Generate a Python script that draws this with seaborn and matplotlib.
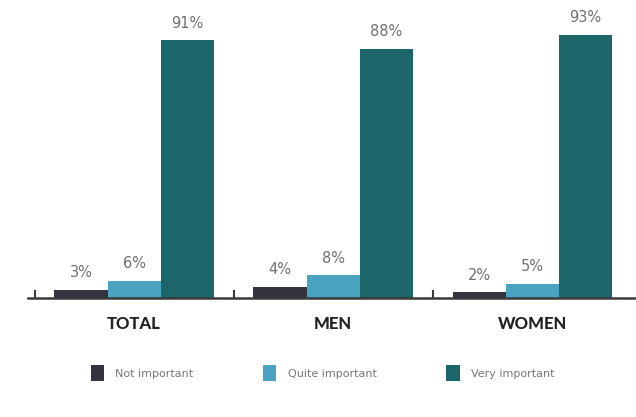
import matplotlib
matplotlib.use("Agg")
import matplotlib.pyplot as plt
import seaborn as sns
import pandas as pd

# Survey answers by respondent group (percent)
groups = ["TOTAL", "MEN", "WOMEN"]
levels = ["Not important", "Quite important", "Very important"]
not_important = [3, 4, 2]
quite_important = [6, 8, 5]
very_important = [91, 88, 93]

colors = ["#34343f", "#4aa3c1", "#1c6568"]

rows = []
for g, a, b, c in zip(groups, not_important, quite_important, very_important):
    rows.append({"group": g, "level": levels[0], "value": a})
    rows.append({"group": g, "level": levels[1], "value": b})
    rows.append({"group": g, "level": levels[2], "value": c})
df = pd.DataFrame(rows)

sns.set_theme(style="white")
plt.rcParams["font.family"] = ["DejaVu Sans"]

fig = plt.figure(figsize=(6.36, 4.17), dpi=100)
ax = fig.add_axes([28 / 636, 119 / 417, 608 / 636, 298 / 417])

sns.barplot(data=df, x="group", y="value", hue="level", order=groups,
            hue_order=levels, palette=colors, width=0.8, saturation=1,
            linewidth=0, ax=ax, legend=True)

for cont in ax.containers:
    ax.bar_label(cont, fmt="%d%%", padding=7, fontsize=10.5, color="#707070")

ax.set_ylim(0, 105.3)
ax.set_xlim(-0.533, 2.522)
ax.set_xlabel("")
ax.set_ylabel("")
ax.set_yticks([])

for side in ["top", "right", "left"]:
    ax.spines[side].set_visible(False)
ax.spines["bottom"].set_color("#3a3a3a")
ax.spines["bottom"].set_linewidth(1.8)

ax.set_xticks(range(len(groups)))
ax.set_xticklabels(groups, fontfamily="Lato", fontweight="black",
                   fontsize=12, color="#222222")
ax.tick_params(axis="x", which="major", length=0, pad=13)
ax.set_xticks([-0.5, 0.5, 1.5], minor=True)
ax.tick_params(axis="x", which="minor", direction="in", length=6,
               width=1.5, color="#3a3a3a", bottom=True)

handles, labels = ax.get_legend_handles_labels()
ax.get_legend().remove()
fig.legend(handles, labels, loc="center", bbox_to_anchor=(0.507, 0.105),
           ncol=3, frameon=False, fontsize=8, labelcolor="#777777",
           handlelength=1.2, handleheight=1.8, handletextpad=1.0,
           columnspacing=6.3)

fig.savefig("out.png", dpi=100, facecolor="white")
